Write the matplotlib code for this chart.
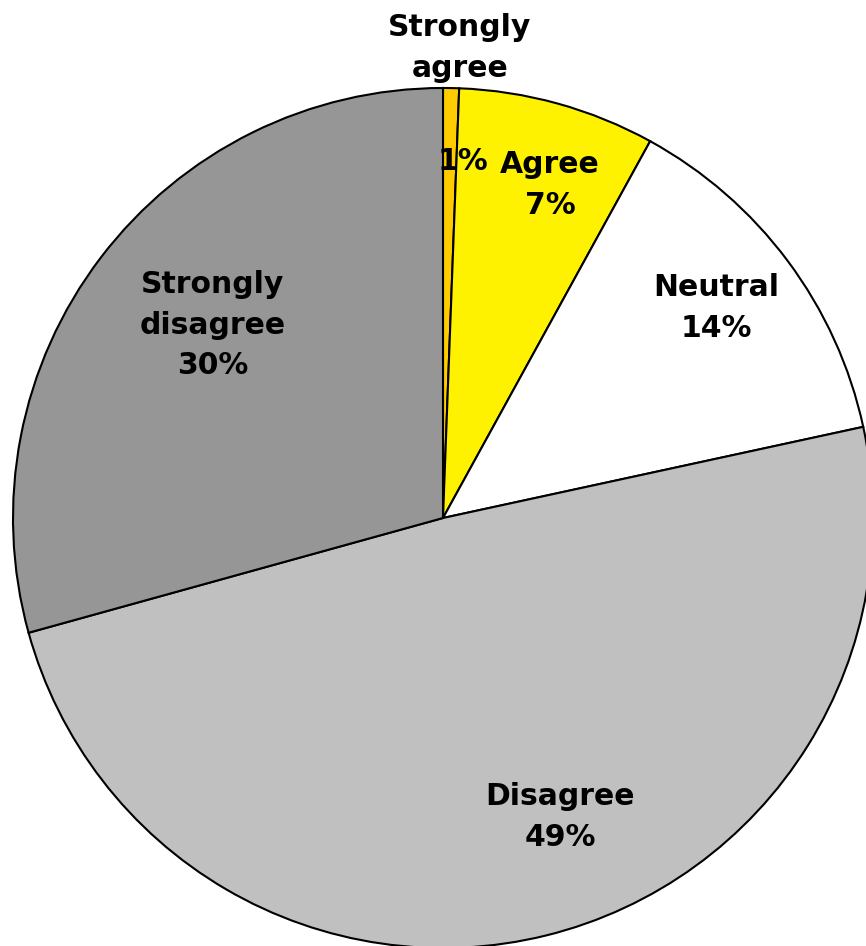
import matplotlib.pyplot as plt

# survey answers, share of respondents (%)
categories = ['Strongly agree', 'Agree', 'Neutral', 'Disagree', 'Strongly disagree']
values = [0.6, 7.4, 13.6, 49.1, 29.3]
pct_labels = ['1%', '7%', '14%', '49%', '30%']
colors = ['#FFCC00', '#FFF200', '#FFFFFF', '#C0C0C0', '#969696']

W, H = 866, 946
fig = plt.figure(figsize=(W / 100, H / 100), dpi=100)
ax = fig.add_axes([0, 0, 1, 1])

# pie in pixel-like coordinates (y measured from the top via H - y)
cx, cy, R = 443, 518, 430
ax.pie(values, colors=colors, startangle=90, counterclock=False,
       center=(cx, H - cy), radius=R,
       wedgeprops=dict(edgecolor='black', linewidth=1.5))
ax.set_xlim(0, W)
ax.set_ylim(0, H)
ax.set_aspect('equal')
ax.axis('off')

font = dict(fontsize=21.5, fontweight='bold', family='DejaVu Sans',
            ha='center', va='center', linespacing=1.5)

# label placement (x, y from top)
ax.text(460, H - 48, 'Strongly\nagree', **font)
ax.text(463, H - 162, pct_labels[0], **font)
ax.text(550, H - 185, categories[1] + '\n' + pct_labels[1], **font)
ax.text(716, H - 308, categories[2] + '\n' + pct_labels[2], **font)
ax.text(560, H - 817, categories[3] + '\n' + pct_labels[3], **font)
ax.text(213, H - 325, 'Strongly\ndisagree\n' + pct_labels[4], **font)

fig.savefig('out.png', dpi=100)
